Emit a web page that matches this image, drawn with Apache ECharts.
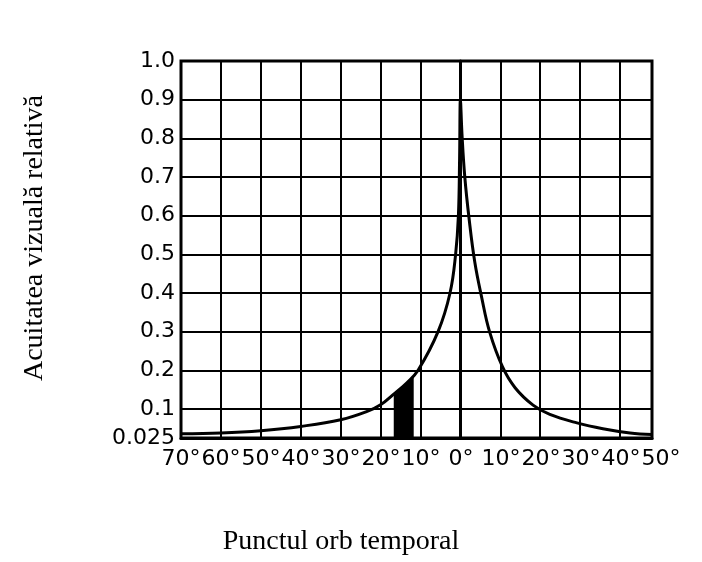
<!DOCTYPE html>
<html>
<head>
<meta charset="utf-8">
<script src="https://cdn.jsdelivr.net/npm/echarts@6/dist/echarts.min.js"></script>
<style>html,body{margin:0;padding:0;background:#fff}#c{width:702px;height:562px}</style>
</head>
<body>
<div id="c"></div>
<script>
// Data
const angleDeg = [-70,-60,-50,-40,-30,-23.5,-20,-17,-13.4,-10.6,-5.6,-2.6,-1.2,-0.5,-0.2,0,0.4,1.1,2.2,3.6,5.3,7.3,10.5,13.7,18.2,22.4,29.2,35.7,42.5,48];
const acuity   = [0.036,0.038,0.044,0.055,0.072,0.093,0.111,0.136,0.168,0.2,0.3,0.4,0.5,0.6,0.75,0.9,0.81,0.70,0.59,0.48,0.39,0.30,0.21,0.155,0.11,0.086,0.064,0.049,0.038,0.034];
const blindDeg = [-16.7,-15,-13.4,-11.7];
const blindAcuity = [0.138,0.152,0.168,0.185];
const yTicks = [0.025,0.1,0.2,0.3,0.4,0.5,0.6,0.7,0.8,0.9,1.0];
const xGridTicks = [-70,-60,-50,-40,-30,-20,-10,0,10,20,30,40,48];
const xLabelTicks = [-70,-60,-50,-40,-30,-20,-10,0,10,20,30,40,50];
const yTitle = 'Acuitatea vizuală relativă';
const xTitle = 'Punctul orb temporal';

const chart = echarts.init(document.getElementById('c'), null, {renderer:'canvas'});
const labelFont = 'DejaVu Sans';
chart.setOption({
  animation: false,
  backgroundColor: '#fff',
  grid: [
    {left: 181, right: 50, top: 61, bottom: 124, show: true, borderColor: '#000', borderWidth: 3, backgroundColor: 'transparent'},
    {left: 181, width: 480, top: 61, bottom: 124, show: false}
  ],
  xAxis: [
    {type: 'value', gridIndex: 0, min: -70, max: 48,
      axisLine: {show: true, lineStyle: {color: '#000', width: 3}},
      axisTick: {show: false, customValues: xGridTicks},
      axisLabel: {show: false},
      splitLine: {show: true, lineStyle: {color: '#000', width: 2}}},
    {type: 'value', gridIndex: 1, min: -70, max: 50,
      axisLine: {show: false}, axisTick: {show: false}, splitLine: {show: false},
      axisLabel: {show: true, customValues: xLabelTicks, color: '#000', fontFamily: labelFont, fontSize: 22, margin: 10,
        formatter: v => Math.abs(v) + '°'}}
  ],
  yAxis: [
    {type: 'value', gridIndex: 0, min: 0.025, max: 1.0,
      axisLine: {show: true, lineStyle: {color: '#000', width: 3}},
      axisTick: {show: false, customValues: yTicks},
      axisLabel: {show: true, customValues: yTicks, color: '#000', fontFamily: labelFont, fontSize: 22, margin: 6,
        formatter: v => (Math.abs(v - 0.025) < 1e-9 ? '0.025' : v.toFixed(1))},
      splitLine: {show: true, lineStyle: {color: '#000', width: 2}}},
    {type: 'value', gridIndex: 1, min: 0, max: 1, show: false}
  ],
  graphic: [
    {type: 'text', x: 35, y: 238, rotation: Math.PI / 2,
      style: {text: yTitle, font: '28px "Liberation Serif"', fill: '#000', textAlign: 'center', textVerticalAlign: 'middle'}},
    {type: 'text', x: 341, y: 542,
      style: {text: xTitle, font: '28px "Liberation Serif"', fill: '#000', textAlign: 'center', textVerticalAlign: 'middle'}}
  ],
  series: [
    {type: 'line', xAxisIndex: 0, yAxisIndex: 0, symbol: 'none',
      data: blindDeg.map((x, i) => [x, blindAcuity[i]]),
      lineStyle: {width: 0}, areaStyle: {color: '#000', opacity: 1, origin: 'start'}, z: 3},
    {type: 'line', xAxisIndex: 0, yAxisIndex: 0, symbol: 'none', smooth: 0.4,
      data: angleDeg.map((x, i) => [x, acuity[i]]),
      lineStyle: {color: '#000', width: 3}, z: 4}
  ]
});
</script>
</body>
</html>
